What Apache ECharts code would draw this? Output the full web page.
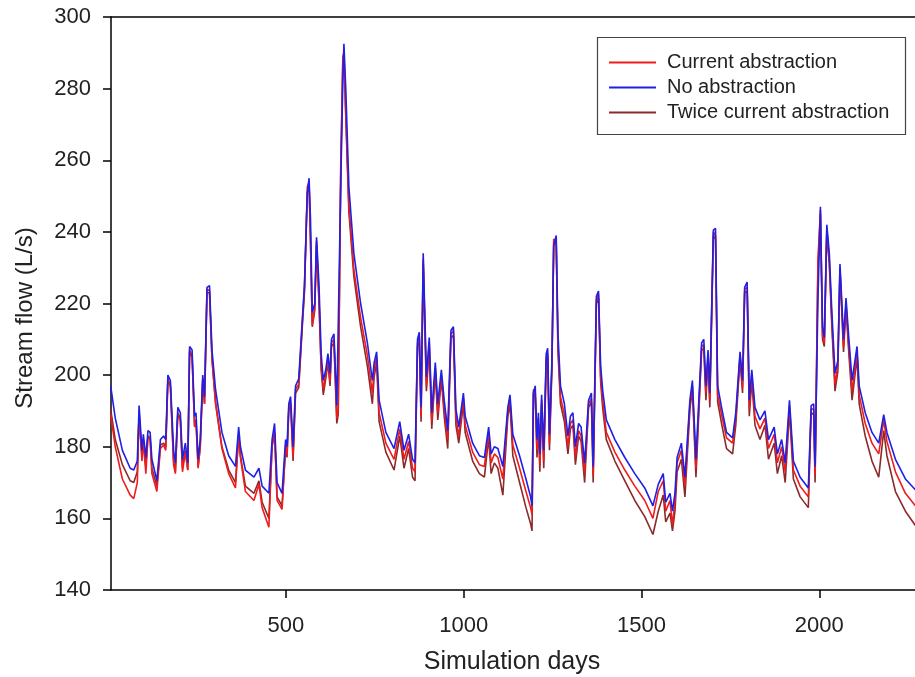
<!DOCTYPE html>
<html>
<head>
<meta charset="utf-8">
<script src="https://cdn.jsdelivr.net/npm/echarts@6/dist/echarts.min.js"></script>
<style>html,body{margin:0;padding:0;background:#fff}#c{width:915px;height:677px}</style>
</head>
<body>
<div id="c"></div>
<script>
// Simulation days (x positions of the traced points)
const days = [
7,20,40,62,72,82,87,95,99,106,
112,118,123,137,147,156,162,168,175,184,
189,196,203,209,217,224,229,236,243,247,
253,259,266,271,278,285,292,302,320,339,
358,367,372,386,410,424,433,452,461,468,
475,489,499,503,508,513,520,527,536,546,
552,560,565,569,574,581,586,593,599,605,
612,618,624,628,635,643,647,654,660,663,
668,677,691,710,729,743,748,755,762,781,
804,820,832,845,856,863,870,875,880,886,
892,895,903,910,920,927,937,945,955,964,
971,978,986,999,1004,1025,1044,1058,1070,1077,
1086,1096,1110,1124,1130,1138,1157,1175,1188,1192,
1196,1201,1206,1210,1214,1219,1225,1232,1236,1241,
1248,1253,1260,1265,1272,1283,1293,1300,1307,1314,
1323,1330,1340,1351,1359,1364,1373,1379,1385,1391,
1401,1425,1453,1481,1509,1532,1547,1561,1568,1580,
1587,1594,1600,1612,1622,1636,1643,1653,1669,1675,
1681,1687,1692,1702,1708,1714,1725,1739,1756,1765,
1777,1784,1790,1797,1803,1810,1819,1833,1847,1857,
1873,1882,1894,1904,1916,1927,1946,1969,1977,1984,
1988,1996,2003,2009,2014,2021,2028,2035,2044,2052,
2058,2063,2068,2075,2082,2092,2106,2112,2129,2148,
2167,2181,2190,2214,2242,2270
];
// No abstraction (L/s)
const noAbstraction = [
197,188,179,174,173.5,176,191.5,179,183.5,177,
184.5,184,176.5,170.5,182,183,182,200,198.5,179,
175.5,191,189.5,176.5,181,175.5,208,207,188.5,189.5,
176.5,182,200,194,224.5,225,207,196,184,177.5,
174.5,185.5,180,173.5,171.5,174,169,167,182,186.5,
170,167,182,180,192,194,180,197,199,215.5,
225,250.5,255,243.5,217.5,220,238.5,225,206,198.5,
201.5,206,200.5,210,211.5,191.5,192,252.5,282.5,292.5,
280.5,252.5,234,220,209,198.5,203.5,206.5,193,184,
179.5,187,179,183.5,176.5,175.5,210,212,191,234,
211.5,199.5,210.5,189.5,203.5,192,201.5,193,184.5,212.5,
213.5,190.5,185.5,195,188.5,181,177.5,177,185.5,178,
180,179.5,174.5,191,194.5,183.5,177.5,171,166,163.5,
195,197,182,189.5,178,194.5,179,206,207.5,183.5,
204,236,239,211.5,197,192,183,188.5,189.5,180,
186.5,185.5,175.5,193,195,174.5,222,223.5,202.5,195.5,
187.5,182,177,172.5,168.5,163.5,169.5,172.5,164.5,167,
162,167,177,181,171.5,193,198.5,176.5,209,210,
197,207,195,240.5,241,197,191,184,182.5,189.5,
206.5,198.5,224.5,226,193,201.5,191,187.5,190,182,
185.5,178,182,175.5,193,176,171.5,168.5,191.5,192,
174.5,221,247,213.5,210.5,242,234,218,200.5,204,
231,221,210,221.5,211.5,198.5,208,197,189.5,184,
181,189,184,176.5,171,168
];
// Current abstraction (L/s)
const currentAbstraction = [
189,180,171,166.5,165.5,170,190,176,181.5,172.5,
183,182,172.5,167.5,179.5,180.5,179,199,197,175,
172.5,189.5,187.5,173,178.5,173.5,207,205.5,185.5,187,
174,180,199,192,224,223.5,204.5,192,179.5,172.5,
168.5,183.5,177,167.5,165,169.5,163,157.5,180.5,184,
165,162.5,180.5,177.5,191,192.5,177,196,197.5,214.5,
224,252.5,254,238,214,219,237.5,221,202.5,196,
200,204.5,198,209,210,188,190.5,258,289,290,
274,247,229.5,216,205.5,195,201.5,205,189.5,181,
176.5,185,176.5,181.5,174,173,209,211,188.5,232.5,
209,197,209,187,202,189.5,200,190.5,182,211.5,
212.5,188,183,193.5,186,178.5,175,174.5,184,175.5,
178,177,171,190,193.5,180.5,174,167.5,163,161,
196,195,179,188,175,193,176,205,206,181,
203,238,237.5,208,194,189,180,186.5,187.5,177,
184.5,183,172.5,192,193.5,172,221,222.5,199.5,192.5,
184,178.5,173.5,169,165,160,167.5,170.5,162,165,
158,165,175.5,179,169,192,197,174,208,208.5,
195,205.5,193,240,239,194.5,189,182.5,181,188,
205.5,196.5,224,224.5,190.5,200,188.5,185,188,179.5,
183.5,175.5,180,173,191.5,173.5,169,166,190.5,190.5,
172,232,246,211,209,241,232,215.5,197.5,202.5,
230,219,208,220,209,195.5,206.5,194.5,186.5,181,
178,187.5,181.5,173,167,163.5
];
// Twice current abstraction (L/s)
const twiceAbstraction = [
190.5,182,175,170.5,170,173,189,177,182,174.5,
183,182.5,174,169,180.5,181,180,198.5,197,176,
173,189.5,187.5,174,179,173.5,206.5,205,186,187.5,
174.5,180,198.5,192,223,223,204.5,192.5,180,173.5,
170,183,177.5,169,167,170.5,164.5,160,180,184,
166,163.5,179.5,177,190,192,176,195,196.5,213.5,
223,251,253,237,213.5,218,236.5,220,201.5,194.5,
199,203.5,197,208,209,186.5,189,256,288,289,
273,245.5,227.5,213.5,202.5,192,199.5,203.5,187,178.5,
173.5,183,174,179.5,171.5,170.5,208,210,187,231,
207.5,195.5,208,185,201,187.5,199,188.5,179.5,210.5,
211,186,181,192,184,176,172.5,171.5,182.5,172.5,
175.5,174,166.5,188.5,192,177.5,170,163,158.5,156.5,
195,194,177,186.5,173,192,174,204,205,179,
202,237,236.5,206.5,192,187,178,185,186,175,
183,181.5,170,191,192.5,170,220,221.5,198,190.5,
182,176,170.5,165,160.5,155.5,162,166.5,159,161.5,
156.5,162,173,176.5,166,190.5,196,171.5,207,207.5,
193,204.5,191,239,238,192.5,186.5,179.5,178,186,
204.5,195,223,223.5,188.5,198.5,186,182,186,176.5,
181,172.5,177.5,170,190,171,166,163,189.5,189,
170,230,245,210,208,240,231,214,195.5,201,
229,218,206.5,219,207.5,193,205,192,183,176,
171.5,184.5,177.5,167.5,162,158
];
const xTicks = [500, 1000, 1500, 2000];
const seriesNames = ['Current abstraction', 'No abstraction', 'Twice current abstraction'];

const pairs = vals => days.map((d, i) => [d, vals[i]]);
const FONT = "'Liberation Sans', Arial, sans-serif";
const chart = echarts.init(document.getElementById('c'), null, {renderer: 'canvas'});
const xBase = {type: 'value', min: 8, max: 2269};
chart.setOption({
  animation: false,
  backgroundColor: '#fff',
  grid: {left: 111, right: 0, top: 17, bottom: 87, containLabel: false},
  xAxis: [
    Object.assign({}, xBase, {
      position: 'bottom',
      splitLine: {show: false},
      axisLine: {show: true, onZero: false, lineStyle: {color: '#000', width: 1.5}},
      axisTick: {show: true, inside: false, length: 8, customValues: xTicks, lineStyle: {color: '#000', width: 1.5}},
      axisLabel: {show: true, customValues: xTicks, formatter: v => String(v), margin: 25, color: '#222', fontSize: 22, fontFamily: FONT}
    }),
    Object.assign({}, xBase, {
      position: 'top',
      splitLine: {show: false},
      axisLine: {show: true, onZero: false, lineStyle: {color: '#000', width: 1.5}},
      axisTick: {show: false},
      axisLabel: {show: false}
    })
  ],
  yAxis: {
    type: 'value', min: 140, max: 300, interval: 20,
    splitLine: {show: false},
    axisLine: {show: true, lineStyle: {color: '#000', width: 1.5}},
    axisTick: {show: true, inside: false, length: 8, lineStyle: {color: '#000', width: 1.5}},
    axisLabel: {margin: 20, color: '#222', fontSize: 22, fontFamily: FONT}
  },
  legend: {
    orient: 'vertical', left: 609, top: 52, padding: 0,
    data: seriesNames,
    icon: 'rect',
    itemWidth: 47, itemHeight: 2, itemGap: 4,
    textStyle: {fontSize: 20, fontFamily: FONT, color: '#222', lineHeight: 21, padding: [0, 0, 0, 6]}
  },
  graphic: [
    {type: 'rect', shape: {x: 597.5, y: 37.5, width: 308, height: 97}, style: {fill: 'none', stroke: '#444', lineWidth: 1.2}, z: 100},
    {type: 'text', x: 25, y: 318, rotation: Math.PI / 2, style: {text: 'Stream flow (L/s)', fontSize: 24, fontFamily: FONT, fill: '#222', align: 'center', verticalAlign: 'middle'}},
    {type: 'text', x: 512, y: 662, style: {text: 'Simulation days', fontSize: 25, fontFamily: FONT, fill: '#222', align: 'center', verticalAlign: 'middle'}}
  ],
  series: [
    {name: seriesNames[2], type: 'line', data: pairs(twiceAbstraction), showSymbol: false, symbol: 'none', lineStyle: {color: '#8c2a2a', width: 1.6}, itemStyle: {color: '#8c2a2a'}},
    {name: seriesNames[0], type: 'line', data: pairs(currentAbstraction), showSymbol: false, symbol: 'none', lineStyle: {color: '#ee1c1c', width: 1.6}, itemStyle: {color: '#ee1c1c'}},
    {name: seriesNames[1], type: 'line', data: pairs(noAbstraction), showSymbol: false, symbol: 'none', lineStyle: {color: '#1f1fe6', width: 1.6}, itemStyle: {color: '#1f1fe6'}}
  ]
});
</script>
</body>
</html>
